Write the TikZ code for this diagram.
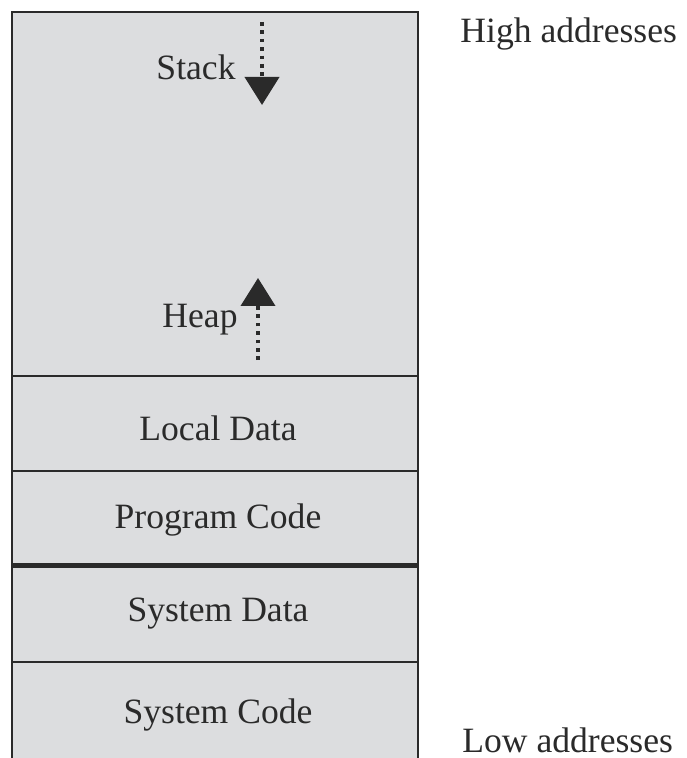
\documentclass[tikz,border=0pt]{standalone}
\usepackage{fontspec}
\setmainfont{Liberation Serif}
\usetikzlibrary{arrows.meta}
\definecolor{cell}{HTML}{DCDDDF}
\definecolor{ink}{HTML}{2A2A2A}
\tikzset{seg/.style={draw=ink,line width=1pt},txt/.style={font=\fontsize{17.8}{21}\selectfont,text=ink,inner sep=0pt},growarrow/.style={draw=ink,line width=2pt,dash pattern=on 1.8pt off 2.4pt,-{Triangle[width=17pt,length=14pt]}}}

\begin{document}
\begin{tikzpicture}[x=0.5pt,y=-0.5pt]
\useasboundingbox (0,0) rectangle (686,758);
\fill[cell] (12,12) rectangle (418,758);
\draw[seg] (12,758)--(12,12)--(418,12)--(418,758);
\draw[seg] (12,376)--(418,376);
\draw[seg] (12,471)--(418,471);
\draw[draw=ink,line width=2.5pt] (12,565)--(418,565);
\draw[seg] (12,662)--(418,662);
\node[txt] (stack) at (196,67) {Stack};
\node[txt] (heap) at (200,320) {Heap};
\coordinate (st0) at (262,22);
\coordinate (st1) at (262,105);
\coordinate (hp0) at (258,360);
\coordinate (hp1) at (258,278);
\draw[growarrow] (st0)--(st1);
\draw[growarrow] (hp0)--(hp1);
\node[txt] (local) at (218,428) {Local Data};
\node[txt] (prog) at (218,520) {Program Code};
\node[txt] (sysd) at (218,614) {System Data};
\node[txt] (sysc) at (218,715) {System Code};
\node[txt,anchor=west] (high) at (460,34) {High addresses};
\node[txt,anchor=base west] (low) at (462,752) {Low addresses};
\end{tikzpicture}
\end{document}
